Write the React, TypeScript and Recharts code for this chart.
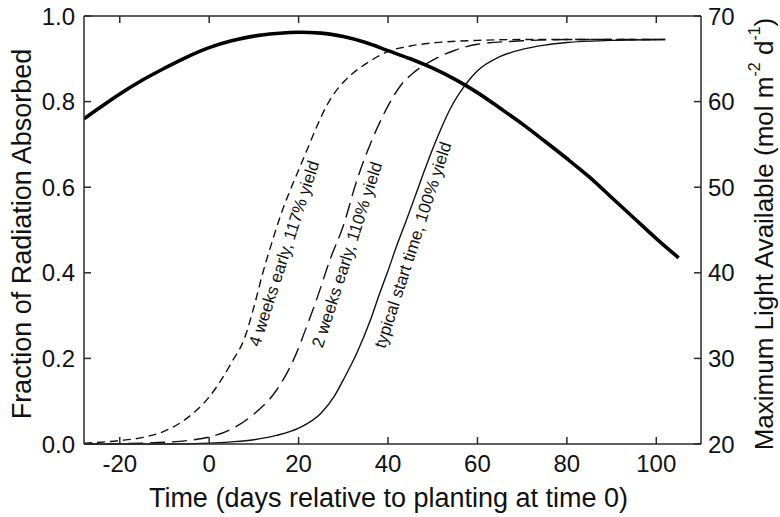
import React from 'react';
import {
  LineChart,
  Line,
  XAxis,
  YAxis,
  ReferenceDot,
} from 'recharts';

// Maximum light available (right axis, mol m-2 d-1)
const lightDays = [-28, -25, -20, -15, -10, -5, 0, 5, 10, 15, 20, 25, 30, 35, 40, 45, 50, 55, 60, 65, 70, 75, 80, 85, 90, 95, 100, 105];
const lightValues = [58.0, 59.1, 60.9, 62.5, 63.9, 65.2, 66.3, 67.1, 67.65, 67.95, 68.1, 68.0, 67.6, 66.9, 65.95, 65.0, 63.9, 62.6, 61.05, 59.25, 57.4, 55.4, 53.35, 51.2, 48.8, 46.4, 44.0, 41.75];

// Fraction of radiation absorbed, planted 4 weeks early
const fourWeekDays = [-28, -20, -15, -10, -5, 0, 5, 8, 10, 12, 14, 16, 18, 20, 22, 24, 26, 28, 30, 32, 35, 40, 45, 50, 60, 70, 102];
const fourWeekValues = [0.002, 0.008, 0.015, 0.03, 0.06, 0.11, 0.19, 0.25, 0.32, 0.4, 0.47, 0.535, 0.59, 0.64, 0.69, 0.74, 0.785, 0.82, 0.845, 0.865, 0.888, 0.917, 0.93, 0.937, 0.943, 0.945, 0.945];

// planted 2 weeks early
const twoWeekDays = [-28, -15, -10, -5, 0, 5, 10, 15, 19, 22, 24, 27, 30, 33, 36, 38, 40, 43, 46, 50, 55, 60, 70, 80, 102];
const twoWeekValues = [0.0, 0.002, 0.004, 0.008, 0.016, 0.035, 0.07, 0.125, 0.2, 0.28, 0.337, 0.43, 0.51, 0.615, 0.7, 0.748, 0.79, 0.84, 0.87, 0.897, 0.92, 0.934, 0.942, 0.945, 0.945];

// typical start time
const typicalDays = [-28, -10, 0, 5, 10, 15, 20, 25, 28, 30, 33, 36, 38, 40, 42, 44, 46, 48, 50, 52, 54, 57, 60, 65, 70, 75, 80, 90, 102];
const typicalValues = [0, 0, 0.002, 0.005, 0.01, 0.02, 0.037, 0.072, 0.112, 0.15, 0.212, 0.288, 0.348, 0.405, 0.465, 0.52, 0.577, 0.635, 0.69, 0.74, 0.785, 0.835, 0.872, 0.905, 0.922, 0.932, 0.938, 0.943, 0.945];

const xTicks = [-20, 0, 20, 40, 60, 80, 100];
const leftTicks = [0, 0.2, 0.4, 0.6, 0.8, 1.0];
const rightTicks = [20, 30, 40, 50, 60, 70];

// curve annotations (anchor in data units)
const curveNotes = [
  { text: '4 weeks early, 117% yield', day: 16.8, frac: 0.445 },
  { text: '2 weeks early, 110% yield', day: 30.9, frac: 0.442 },
  { text: 'typical start time, 100% yield', day: 45.6, frac: 0.465 },
];

const zip = (xs: number[], ys: number[]) => xs.map((x, i) => ({ day: x, value: ys[i] }));

const lightData = zip(lightDays, lightValues);
const fourWeekData = zip(fourWeekDays, fourWeekValues);
const twoWeekData = zip(twoWeekDays, twoWeekValues);
const typicalData = zip(typicalDays, typicalValues);

const FONT = '"Liberation Sans", Arial, sans-serif';
const AXIS = '#2a2a2a';
const tickStyle = { fontSize: 24, fill: '#111', fontFamily: FONT };

const App: React.FC = () => {
  return (
    <div style={{ position: 'absolute', left: 0, top: 0, background: '#fff' }}>
      <LineChart
        width={780}
        height={517}
        margin={{ top: 15, right: 19, bottom: 23, left: 24 }}
      >
        <XAxis
          xAxisId="bottom"
          dataKey="day"
          type="number"
          domain={[-28, 110]}
          ticks={xTicks}
          allowDataOverflow
          height={50}
          stroke={AXIS}
          strokeWidth={1.5}
          tickSize={-7}
          tickMargin={18}
          tick={tickStyle}
          label={(props: any) => {
            const vb = props.viewBox;
            return (
              <text
                x={vb.x + vb.width / 2 - 4}
                y={507}
                textAnchor="middle"
                fontSize={27}
                fontFamily={FONT}
                fill="#111"
              >
                Time (days relative to planting at time 0)
              </text>
            );
          }}
        />
        <XAxis
          xAxisId="top"
          orientation="top"
          dataKey="day"
          type="number"
          domain={[-28, 110]}
          ticks={xTicks}
          allowDataOverflow
          height={1}
          stroke={AXIS}
          strokeWidth={1.5}
          tickSize={-7}
          tickFormatter={() => ''}
        />
        <YAxis
          yAxisId="left"
          type="number"
          domain={[0, 1]}
          ticks={leftTicks}
          width={60}
          stroke={AXIS}
          strokeWidth={1.5}
          tickSize={-7}
          tickMargin={16}
          tick={tickStyle}
          tickFormatter={(v: number) => v.toFixed(1)}
          label={(props: any) => {
            const vb = props.viewBox;
            const cx = vb.x - 2;
            const cy = vb.y + vb.height / 2 + 4;
            return (
              <text
                x={cx}
                y={cy}
                transform={`rotate(-90 ${cx} ${cy})`}
                textAnchor="middle"
                dominantBaseline="central"
                fontSize={27}
                fontFamily={FONT}
                fill="#111"
              >
                Fraction of Radiation Absorbed
              </text>
            );
          }}
        />
        <YAxis
          yAxisId="right"
          orientation="right"
          type="number"
          domain={[20, 70]}
          ticks={rightTicks}
          width={60}
          stroke={AXIS}
          strokeWidth={1.5}
          tickSize={-7}
          tickMargin={14}
          tick={tickStyle}
          label={(props: any) => {
            const vb = props.viewBox;
            const cx = vb.x + 63;
            const cy = vb.y + vb.height / 2 + 4;
            return (
              <text
                x={cx}
                y={cy}
                transform={`rotate(-90 ${cx} ${cy})`}
                textAnchor="middle"
                dominantBaseline="central"
                fontSize={26}
                fontFamily={FONT}
                fill="#111"
              >
                Maximum Light Available (mol m
                <tspan fontSize={16} dy={-10}>-2</tspan>
                <tspan dy={10}> d</tspan>
                <tspan fontSize={16} dy={-10}>-1</tspan>
                <tspan dy={10}>)</tspan>
              </text>
            );
          }}
        />

        <Line
          data={fourWeekData}
          xAxisId="bottom"
          yAxisId="left"
          dataKey="value"
          type="monotone"
          stroke="#111"
          strokeWidth={1.4}
          strokeDasharray="8 5"
          dot={false}
          isAnimationActive={false}
        />
        <Line
          data={twoWeekData}
          xAxisId="bottom"
          yAxisId="left"
          dataKey="value"
          type="monotone"
          stroke="#111"
          strokeWidth={1.4}
          strokeDasharray="15 7"
          dot={false}
          isAnimationActive={false}
        />
        <Line
          data={typicalData}
          xAxisId="bottom"
          yAxisId="left"
          dataKey="value"
          type="monotone"
          stroke="#111"
          strokeWidth={1.4}
          dot={false}
          isAnimationActive={false}
        />
        <Line
          data={lightData}
          xAxisId="bottom"
          yAxisId="right"
          dataKey="value"
          type="monotone"
          stroke="#000"
          strokeWidth={3.6}
          dot={false}
          isAnimationActive={false}
        />

        {curveNotes.map((n) => (
          <ReferenceDot
            key={n.text}
            xAxisId="bottom"
            yAxisId="left"
            x={n.day}
            y={n.frac}
            r={1}
            shape={(p: any) => (
              <text
                x={p.cx}
                y={p.cy}
                transform={`rotate(-72 ${p.cx} ${p.cy})`}
                textAnchor="middle"
                dominantBaseline="central"
                fontSize={17}
                fontFamily={FONT}
                fill="#111"
              >
                {n.text}
              </text>
            )}
          />
        ))}
      </LineChart>
    </div>
  );
};

export default App;
